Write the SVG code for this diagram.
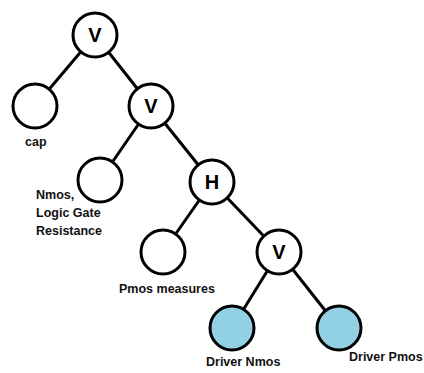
<svg xmlns="http://www.w3.org/2000/svg" width="424" height="373" viewBox="0 0 424 373">
  <style>
    .node { fill: #ffffff; stroke: #000000; stroke-width: 3; }
    .leaf-blue { fill: #92d0e4; stroke: #000000; stroke-width: 3; }
    .edge { stroke: #000000; stroke-width: 3; fill: none; }
    .op { font-family: "Liberation Sans", Arial, sans-serif; font-weight: bold; font-size: 20px; text-anchor: middle; fill: #000; }
    .lbl { font-family: "Liberation Sans", Arial, sans-serif; font-weight: bold; font-size: 12.5px; fill: #111; }
  </style>
  <rect width="424" height="373" fill="#ffffff"/>

  <!-- tree edges -->
  <g id="connectors">
    <line class="edge" x1="95" y1="35" x2="35" y2="106"/>
    <line class="edge" x1="95" y1="35" x2="151" y2="106"/>
    <line class="edge" x1="151" y1="106" x2="100" y2="180"/>
    <line class="edge" x1="151" y1="106" x2="212" y2="182"/>
    <line class="edge" x1="212" y1="182" x2="163" y2="252"/>
    <line class="edge" x1="212" y1="182" x2="279" y2="252"/>
    <line class="edge" x1="279" y1="252" x2="232" y2="328"/>
    <line class="edge" x1="279" y1="252" x2="339" y2="328"/>
  </g>

  <g id="root-v">
    <circle class="node" cx="95" cy="35" r="22"/>
    <text class="op" x="95" y="42">V</text>
  </g>
  <g id="cap">
    <circle class="node" cx="35" cy="106" r="22"/>
    <text class="lbl" x="25" y="146">cap</text>
  </g>
  <g id="v-2">
    <circle class="node" cx="151" cy="106" r="22"/>
    <text class="op" x="151" y="113">V</text>
  </g>
  <g id="nmos-logic">
    <circle class="node" cx="100" cy="180" r="22"/>
    <text class="lbl" x="36" y="199">Nmos,</text>
    <text class="lbl" x="36" y="217">Logic Gate</text>
    <text class="lbl" x="36" y="235">Resistance</text>
  </g>
  <g id="h">
    <circle class="node" cx="212" cy="182" r="22"/>
    <text class="op" x="212" y="189">H</text>
  </g>
  <g id="pmos-measures">
    <circle class="node" cx="163" cy="252" r="22"/>
    <text class="lbl" x="119" y="293">Pmos measures</text>
  </g>
  <g id="v-3">
    <circle class="node" cx="279" cy="252" r="22"/>
    <text class="op" x="279" y="259">V</text>
  </g>
  <g id="driver-nmos">
    <circle class="leaf-blue" cx="232" cy="328" r="22"/>
    <text class="lbl" x="206" y="366">Driver Nmos</text>
  </g>
  <g id="driver-pmos">
    <circle class="leaf-blue" cx="339" cy="328" r="22"/>
    <text class="lbl" x="349" y="361">Driver Pmos</text>
  </g>
</svg>
